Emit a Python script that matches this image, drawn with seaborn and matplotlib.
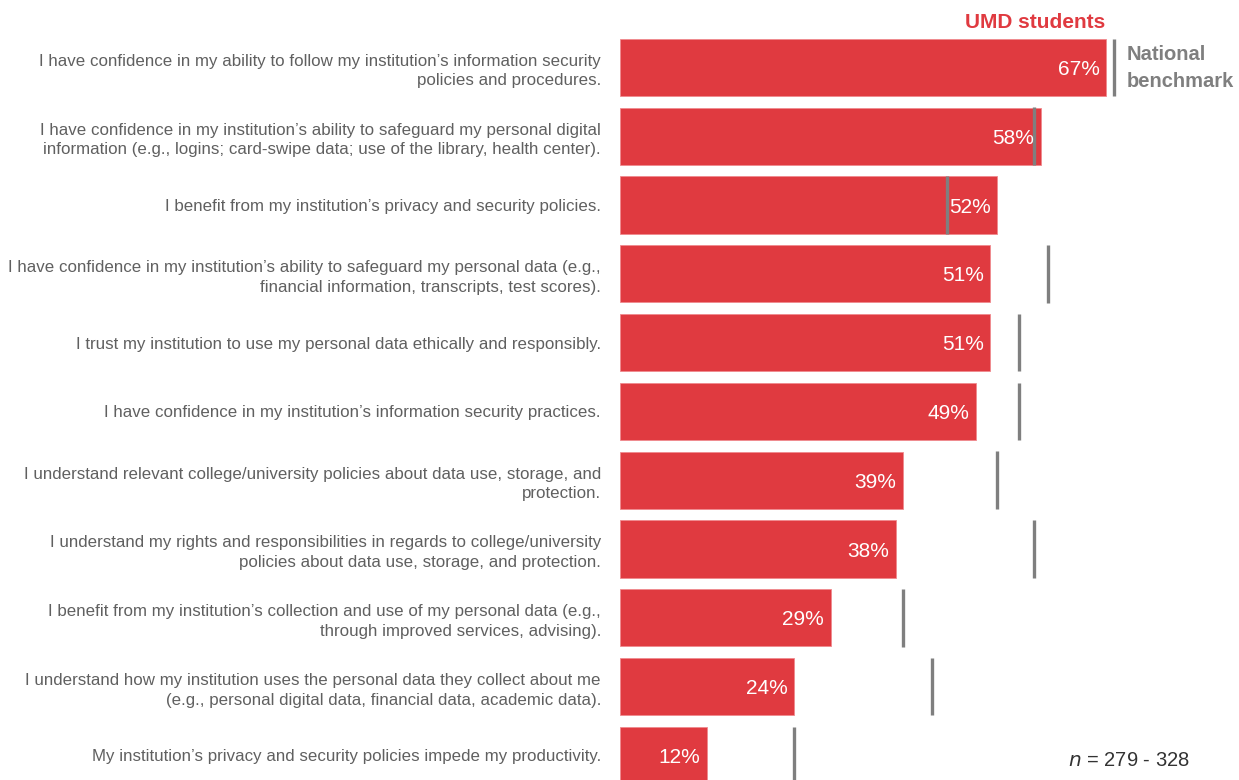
import matplotlib
matplotlib.use("Agg")
import matplotlib.pyplot as plt
import seaborn as sns
import pandas as pd

statements = [
    "I have confidence in my ability to follow my institution\u2019s information security\npolicies and procedures.",
    "I have confidence in my institution\u2019s ability to safeguard my personal digital\ninformation (e.g., logins; card-swipe data; use of the library, health center).",
    "I benefit from my institution\u2019s privacy and security policies.",
    "I have confidence in my institution\u2019s ability to safeguard my personal data (e.g.,\nfinancial information, transcripts, test scores).",
    "I trust my institution to use my personal data ethically and responsibly.",
    "I have confidence in my institution\u2019s information security practices.",
    "I understand relevant college/university policies about data use, storage, and\nprotection.",
    "I understand my rights and responsibilities in regards to college/university\npolicies about data use, storage, and protection.",
    "I benefit from my institution\u2019s collection and use of my personal data (e.g.,\nthrough improved services, advising).",
    "I understand how my institution uses the personal data they collect about me\n(e.g., personal digital data, financial data, academic data).",
    "My institution\u2019s privacy and security policies impede my productivity.",
]
umd_students = [67, 58, 52, 51, 51, 49, 39, 38, 29, 24, 12]
national_benchmark = [68, 57, 45, 59, 55, 55, 52, 57, 39, 43, 24]

RED = "#E03A40"
GRAY_LINE = "#7F7F7F"
LABEL_GRAY = "#606060"
FONT = ["Liberation Sans Narrow", "Liberation Sans", "DejaVu Sans"]

sns.set_theme(style="white")
plt.rcParams["font.family"] = FONT

df = pd.DataFrame({"statement": statements, "umd": umd_students, "bench": national_benchmark})

W, H = 1239, 780
fig = plt.figure(figsize=(W / 100, H / 100), dpi=100)
row_px = 68.8
top_px = 33.0
ax_h = row_px * len(statements)
ax = fig.add_axes([620 / W, (H - top_px - ax_h) / H, 617 / W, ax_h / H])

sns.barplot(data=df, x="umd", y="statement", orient="h", color=RED,
            saturation=1, width=0.83, edgecolor="#F08A8E", linewidth=0.6, ax=ax)

# national benchmark markers
ypos = range(len(statements))
ax.vlines(df["bench"], [y - 0.42 for y in ypos], [y + 0.42 for y in ypos],
          color=GRAY_LINE, linewidth=2.4, zorder=5)

# value labels inside bar ends
for y, v in zip(ypos, df["umd"]):
    ax.text(v - 0.9, y + 0.03, f"{v}%", ha="right", va="center", color="white",
            fontsize=15, zorder=6)

ax.set_xlim(0, 85)
ax.set_ylim(len(statements) - 0.5, -0.5)
ax.set_xlabel("")
ax.set_ylabel("")
ax.set_xticks([])
ax.tick_params(axis="y", length=0, pad=13.7, labelsize=12.2, labelcolor=LABEL_GRAY)
for lbl in ax.get_yticklabels():
    lbl.set_linespacing(1.38)
sns.despine(ax=ax, left=True, bottom=True)

fig.text(1035 / W, 1 - 22 / H, "UMD students", ha="center", va="center",
         color=RED, fontsize=15, fontweight="bold")
fig.text(1127 / W, 1 - 68 / H, "National\nbenchmark", ha="left", va="center",
         color=GRAY_LINE, fontsize=14.5, fontweight="bold", linespacing=1.55)
fig.text(1190 / W, 1 - 760 / H, r"$\it{n}$ = 279 - 328", ha="right", va="center",
         color="#333333", fontsize=14.5)

fig.savefig("out.png", dpi=100)
